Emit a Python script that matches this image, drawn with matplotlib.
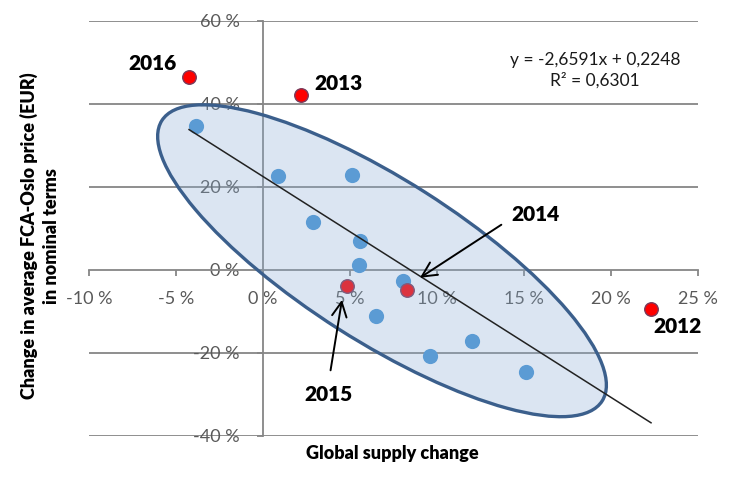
#Scatter of global supply change vs change in FCA-Oslo price, with trend line and highlighted years

import matplotlib.pyplot as plt
import numpy as np
from matplotlib.patches import Ellipse
from matplotlib.transforms import Affine2D
from matplotlib.ticker import FuncFormatter

plt.rcParams['font.family'] = ['Lato', 'DejaVu Sans']

#Data (percent)
supply_blue = [-3.85, 0.86, 5.1, 2.9, 5.6, 5.5, 8.05, 6.5, 9.6, 12.0, 15.1]
price_blue = [34.7, 22.6, 22.9, 11.6, 7.0, 1.2, -2.6, -11.1, -20.7, -17.1, -24.5]

years_red = ['2012', '2013', '2014', '2015', '2016']
supply_red = [22.3, 2.2, 8.3, 4.8, -4.25]
price_red = [-9.4, 42.1, -4.8, -4.0, 46.4]

#Trend line as given in the chart (fractions)
slope = -2.6591
intercept = 0.2248
r_squared = '0,6301'

x_ticks = [-10, -5, 0, 5, 10, 15, 20, 25]
y_ticks = [-40, -20, 0, 20, 40, 60]

fig = plt.figure(figsize=(7.35, 4.92), dpi=100)
ax = fig.add_axes([89/735, 56/492, 609/735, 415.3/492])
ax.set_xlim(-10, 25)
ax.set_ylim(-40, 60)

grid_col = '#868686'
for yt in y_ticks:
    if yt != 0:
        ax.axhline(yt, color=grid_col, lw=1.3, zorder=1)

ax.spines['left'].set_position(('data', 0))
ax.spines['bottom'].set_position(('data', 0))
ax.spines['top'].set_visible(False)
ax.spines['right'].set_visible(False)
for s in ['left', 'bottom']:
    ax.spines[s].set_color(grid_col)
    ax.spines[s].set_linewidth(1.3)

pct = FuncFormatter(lambda v, p: '%d %%' % v)
ax.set_xticks(x_ticks)
ax.set_yticks(y_ticks)
ax.xaxis.set_major_formatter(pct)
ax.yaxis.set_major_formatter(pct)
ax.tick_params(axis='x', direction='out', length=4, width=1.3, color=grid_col,
               labelsize=13, labelcolor='#595959', pad=11)
ax.tick_params(axis='y', direction='out', length=4, width=1.3, color=grid_col,
               labelsize=13, labelcolor='#595959', pad=13)

#Points
ax.scatter(supply_blue, price_blue, s=120, color='#4794d5', zorder=3, linewidths=0)
ax.scatter(supply_red, price_red, s=95, color='#ff0000', edgecolors='#7a3a5a',
           linewidths=1.0, zorder=4)

#Ellipse highlighting the cluster (drawn over the points, semi transparent)
bb = ax.get_position()
px_x = bb.width * 735 / 35.0
px_y = bb.height * 492 / 100.0
ratio = px_x / px_y
ell = Ellipse((6.84, 2.2 / ratio), width=30.0, height=9.3, angle=-32.5,
              transform=Affine2D().scale(1, ratio) + ax.transData,
              facecolor='#8aacd4', alpha=0.3, edgecolor='none', zorder=5)
ax.add_patch(ell)
ell_edge = Ellipse((6.84, 2.2 / ratio), width=30.0, height=9.3, angle=-32.5,
                   transform=Affine2D().scale(1, ratio) + ax.transData,
                   facecolor='none', edgecolor='#3b5f8c', lw=2.4, zorder=6)
ax.add_patch(ell_edge)

#Trend line
all_x = np.array(supply_blue + supply_red)
tx = np.array([all_x.min(), all_x.max()])
ty = (slope * tx / 100 + intercept) * 100
ax.plot(tx, ty, color='#222222', lw=1.1, zorder=7)

ax.text(0.831, 0.881, 'y = -2,6591x + 0,2248\nR² = ' + r_squared, transform=ax.transAxes,
        ha='center', va='center', fontsize=12.5, linespacing=1.3, color='#1a1a1a')

#Year labels
lab_offsets = {'2016': (-26, 9.5), '2013': (27, 8.5), '2012': (19, -13)}
for yr, sx, py in zip(years_red, supply_red, price_red):
    if yr in lab_offsets:
        ax.annotate(yr, (sx, py), xytext=lab_offsets[yr], textcoords='offset points',
                    ha='center', va='center', fontsize=15, fontweight='heavy', zorder=8)

ax.annotate('2014', (9.02, -1.9), xytext=(83, 45.5), textcoords='offset points',
            ha='center', va='center', fontsize=15, fontweight='heavy', zorder=8,
            arrowprops=dict(arrowstyle='->,head_length=0.7,head_width=0.35', color='black',
                            lw=1.4, relpos=(0, 0.3), shrinkA=6, shrinkB=0))
ax.annotate('2015', (4.54, -7.2), xytext=(-10, -68.5), textcoords='offset points',
            ha='center', va='center', fontsize=15, fontweight='heavy', zorder=8,
            arrowprops=dict(arrowstyle='->,head_length=0.7,head_width=0.35', color='black',
                            lw=1.4, relpos=(0.5, 1), shrinkA=9, shrinkB=0))

#Axis titles
fig.text(392/735, 1 - 453/492, 'Global supply change', ha='center', va='center',
         fontsize=13, fontweight='heavy')
fig.text(40/735, 1 - 236/492, 'Change in average FCA-Oslo price (EUR)\nin nominal terms',
         ha='center', va='center', rotation=90, fontsize=13, fontweight='heavy',
         multialignment='center', linespacing=1.35)

fig.savefig('out.png', dpi=100)
